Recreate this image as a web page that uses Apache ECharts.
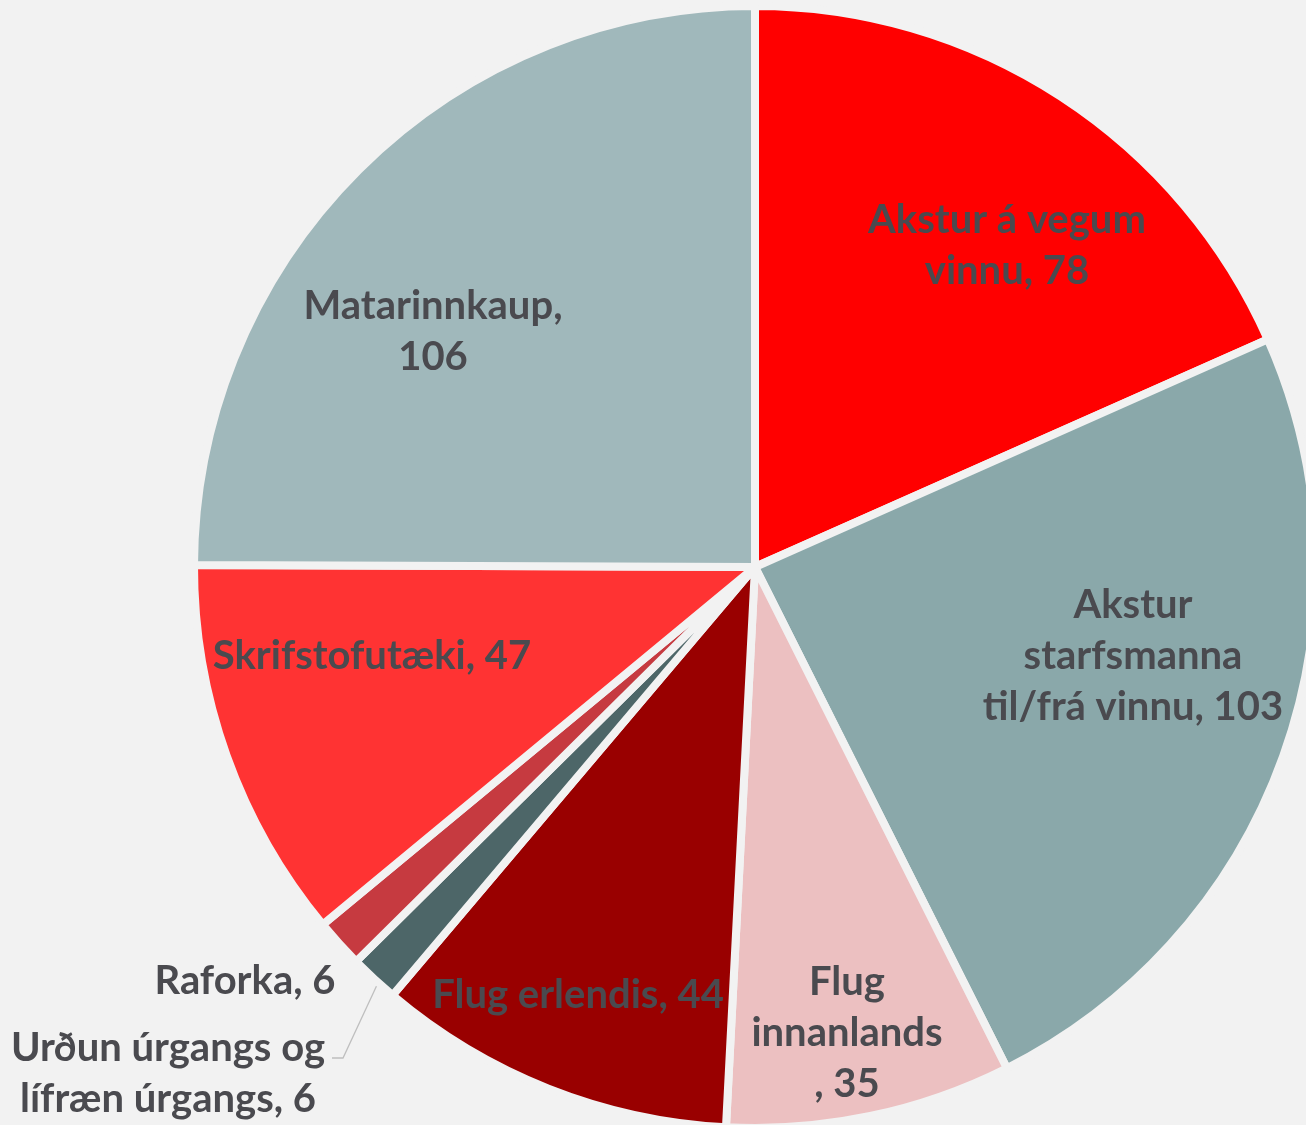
<!DOCTYPE html>
<html>
<head>
<meta charset="utf-8">
<script src="https://cdn.jsdelivr.net/npm/echarts@6/dist/echarts.min.js"></script>
<style>
  html, body { margin: 0; padding: 0; background: #F2F2F2; }
  #pie { width: 1306px; height: 1125px; }
</style>
</head>
<body>
<div id="pie"></div>
<script>
// losun eftir flokkum (clockwise from 12 o'clock)
const categories = ['Akstur á vegum vinnu', 'Akstur starfsmanna til/frá vinnu', 'Flug innanlands', 'Flug erlendis',
  'Urðun úrgangs og lífræn úrgangs', 'Raforka', 'Skrifstofutæki', 'Matarinnkaup']
const values = [78, 103, 35, 44, 6, 6, 47, 106]
// label text as wrapped in the original (value is appended)
const wrapped = ['Akstur á vegum\nvinnu, ', 'Akstur\nstarfsmanna\ntil/frá vinnu, ', 'Flug\ninnanlands\n, ', 'Flug erlendis, ',
  'Urðun úrgangs og\nlífræn úrgangs, ', 'Raforka, ', 'Skrifstofutæki, ', 'Matarinnkaup,\n']
const colors = ['#FF0000', '#8AA8AA', '#ECC0C1', '#990000', '#4D6668', '#C63A40', '#FF3333', '#A0B8BB']
const outside = [4, 5]

// where the labels sit (centre of text block)
const labelSpots = [[1007, 246], [1133, 656], [847, 1033], [578, 995], [168, 1074], [245, 981], [372, 656], [433, 332]]
const leader = { 4: [[377, 985], [343, 1058], [332, 1058]] }

let mychart = echarts.init(document.getElementById('pie'))

const seriesData = categories.map((name, i) => {
  let item = { name: name, value: values[i], itemStyle: { color: colors[i] } }
  if (outside.indexOf(i) >= 0) {
    item.label = { position: 'outside' }
    item.labelLine = { show: !!leader[i], lineStyle: { color: '#BFBFBF', width: 1.3 } }
  }
  return item
})

mychart.setOption({
  backgroundColor: '#F2F2F2',
  animation: false,
  series: [
    {
      type: 'pie',
      center: [755, 567],
      radius: 561,
      startAngle: 90,
      clockwise: true,
      avoidLabelOverlap: false,
      itemStyle: { borderColor: '#F2F2F2', borderWidth: 8 },
      label: {
        show: true,
        position: 'inside',
        fontFamily: 'Lato',
        fontWeight: 'bold',
        fontSize: 40,
        lineHeight: 51,
        color: '#4A4A4F',
        formatter: p => wrapped[p.dataIndex] + p.value
      },
      emphasis: { disabled: true },
      labelLayout: params => {
        const i = params.dataIndex
        let out = { x: labelSpots[i][0], y: labelSpots[i][1], align: 'center', verticalAlign: 'middle' }
        if (leader[i]) out.labelLinePoints = leader[i]
        return out
      },
      data: seriesData
    }
  ]
})
</script>
</body>
</html>
